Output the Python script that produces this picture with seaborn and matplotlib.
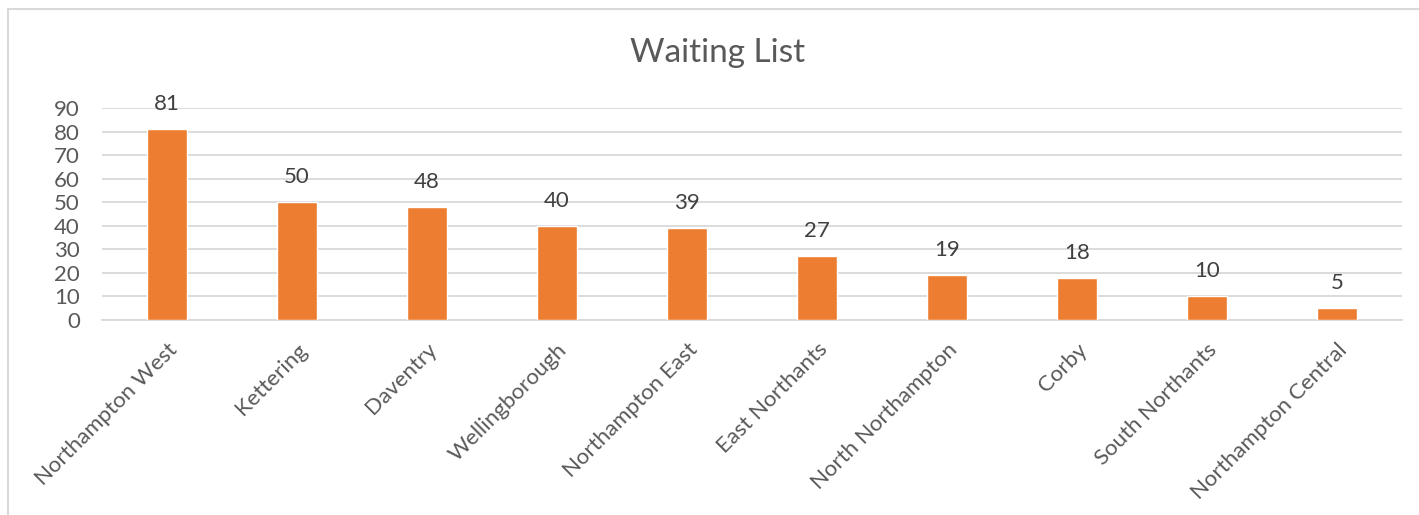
import matplotlib
matplotlib.use("Agg")
import matplotlib.pyplot as plt
import seaborn as sns
import pandas as pd
from matplotlib.patches import Rectangle

# data
areas = ["Northampton West", "Kettering", "Daventry", "Wellingborough",
         "Northampton East", "East Northants", "North Northampton", "Corby",
         "South Northants", "Northampton Central"]
waiting = [81, 50, 48, 40, 39, 27, 19, 18, 10, 5]
y_ticks = [0, 10, 20, 30, 40, 50, 60, 70, 80, 90]

df = pd.DataFrame({"area": areas, "waiting": waiting})

sns.set_theme(style="white")
plt.rcParams["font.family"] = ["Lato", "DejaVu Sans"]

fig = plt.figure(figsize=(14.19, 5.15), dpi=100)
ax = fig.add_axes([102 / 1419, 1 - 320 / 515, 1300 / 1419, 212 / 515])

# chart frame (light border, cut off at right/bottom like the screenshot)
fig.patches.append(Rectangle((8 / 1419, -0.1), 1.2, 1 - 9 / 515 + 0.1,
                             transform=fig.transFigure, fill=False,
                             edgecolor="#d9d9d9", linewidth=1.5))

sns.barplot(data=df, x="area", y="waiting", color="#ED7D31", width=0.31,
            saturation=1, ax=ax, zorder=3)

ax.set_ylim(0, 90)
ax.set_xlim(-0.5, len(areas) - 0.5)
ax.set_yticks(y_ticks)
ax.yaxis.grid(True, color="#d9d9d9", linewidth=1.3, zorder=0)
ax.set_axisbelow(True)
for s in ["top", "right", "left"]:
    ax.spines[s].set_visible(False)
ax.spines["bottom"].set_color("#d9d9d9")
ax.spines["bottom"].set_linewidth(1.3)

ax.set_xlabel("")
ax.set_ylabel("")
ax.tick_params(axis="y", labelsize=16, labelcolor="#595959", length=0, pad=16)
ax.tick_params(axis="x", labelsize=16, labelcolor="#595959", length=0, pad=14)
plt.setp(ax.get_xticklabels(), rotation=45, ha="right", rotation_mode="anchor")

for i, v in enumerate(waiting):
    ax.annotate(str(v), (i, v), xytext=(0, 18), textcoords="offset points",
                ha="center", va="center", fontsize=16, color="#404040")

fig.text(718 / 1419, 1 - 53 / 515, "Waiting List", ha="center", va="center",
         fontsize=24, color="#595959")

fig.savefig("out.png", dpi=100)
plt.close()
